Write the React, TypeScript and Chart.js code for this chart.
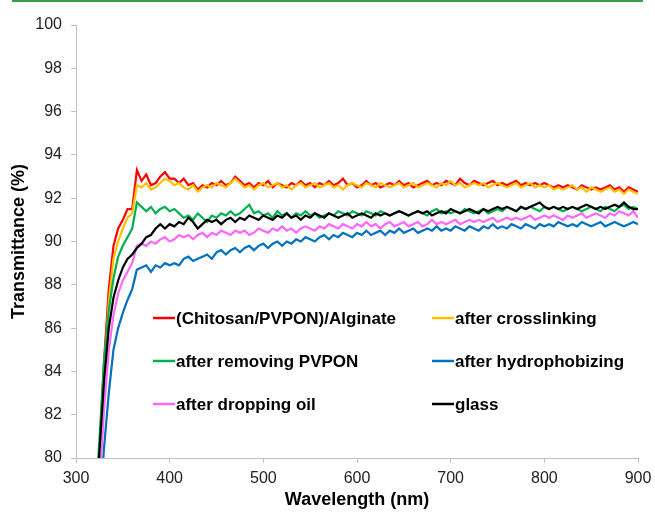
import React, { useEffect, useRef } from "react";
import { Chart, registerables } from "chart.js";

Chart.register(...registerables);

// Wavelength grid (nm): 320..900 every 5 nm
const wavelengths: number[] = Array.from({ length: 117 }, (_, i) => 320 + 5 * i);

const chitosanAlginate = [
  77.0, 80.3, 84.5, 87.8, 89.8, 90.6, 91.0, 91.5, 91.5, 93.3,
  92.8, 93.1, 92.6, 92.7, 93.0, 93.2, 92.9, 92.9, 92.7, 92.9,
  92.6, 92.7, 92.4, 92.6, 92.5, 92.7, 92.6, 92.8, 92.6, 92.7,
  93.0, 92.8, 92.6, 92.7, 92.5, 92.7, 92.6, 92.8, 92.5, 92.7,
  92.6, 92.5, 92.7, 92.6, 92.8, 92.6, 92.7, 92.5, 92.7, 92.6,
  92.8, 92.6, 92.7, 92.9, 92.6, 92.7, 92.5, 92.6, 92.8, 92.6,
  92.7, 92.5, 92.6, 92.7, 92.6, 92.8, 92.6, 92.7, 92.5, 92.6,
  92.7, 92.8, 92.6, 92.7, 92.6, 92.8, 92.7, 92.6, 92.9, 92.7,
  92.6, 92.8, 92.7, 92.6, 92.7, 92.8, 92.6, 92.7, 92.6, 92.7,
  92.8, 92.6, 92.7, 92.6, 92.7, 92.6, 92.7, 92.6, 92.5, 92.6,
  92.5, 92.6, 92.5, 92.4, 92.6, 92.5, 92.4, 92.5, 92.4, 92.5,
  92.6, 92.4, 92.5, 92.3, 92.5, 92.4, 92.3,
];

const afterCrosslinking = [
  76.5, 80.0, 84.0, 87.2, 89.2, 90.0, 90.6, 91.1, 91.3, 92.6,
  92.5, 92.7, 92.4, 92.5, 92.7, 92.9, 92.8, 92.6, 92.7, 92.5,
  92.4, 92.6, 92.3, 92.5, 92.6, 92.5, 92.7, 92.6, 92.5, 92.7,
  92.9, 92.7, 92.5, 92.6, 92.4, 92.6, 92.7, 92.5, 92.6, 92.7,
  92.5, 92.6, 92.4, 92.6, 92.7, 92.5, 92.6, 92.7, 92.5, 92.6,
  92.7, 92.5, 92.6, 92.4, 92.6, 92.7, 92.6, 92.5, 92.7, 92.6,
  92.5, 92.7, 92.6, 92.5, 92.6, 92.7, 92.5, 92.6, 92.7, 92.5,
  92.6, 92.7, 92.6, 92.5, 92.7, 92.6, 92.8, 92.6, 92.7, 92.5,
  92.6, 92.7, 92.6, 92.7, 92.5, 92.6, 92.7, 92.6, 92.5, 92.6,
  92.7, 92.5, 92.6, 92.7, 92.5, 92.6, 92.5, 92.6, 92.4, 92.5,
  92.4, 92.5, 92.6, 92.4, 92.5, 92.3, 92.5, 92.4, 92.3, 92.4,
  92.5, 92.3, 92.4, 92.2, 92.4, 92.3, 92.2,
];

const afterRemovingPVPON = [
  77.5, 80.8, 84.5, 86.8, 88.3, 89.3, 89.8, 90.2, 90.6, 91.8,
  91.6, 91.4, 91.6, 91.3, 91.5, 91.6, 91.4, 91.5, 91.3, 91.1,
  91.2, 91.0, 91.3, 91.1, 90.9, 91.2, 91.1, 91.3, 91.2, 91.4,
  91.2, 91.3, 91.5, 91.7, 91.3, 91.4, 91.2, 91.3, 91.1, 91.4,
  91.2, 91.3, 91.1, 91.3, 91.2, 91.4, 91.2, 91.3, 91.1, 91.2,
  91.3, 91.2, 91.4, 91.3, 91.2, 91.4, 91.3, 91.2, 91.4, 91.3,
  91.2, 91.4, 91.3, 91.2, 91.3, 91.4, 91.3, 91.2, 91.3, 91.4,
  91.3, 91.2, 91.4, 91.5, 91.3, 91.4, 91.3, 91.4, 91.3, 91.5,
  91.4, 91.3, 91.4, 91.5, 91.3, 91.4, 91.5, 91.4, 91.6, 91.5,
  91.4, 91.6, 91.5, 91.6, 91.5, 91.4, 91.6, 91.5, 91.6, 91.5,
  91.4, 91.5, 91.6, 91.5, 91.4, 91.5, 91.6, 91.5, 91.4, 91.6,
  91.5, 91.4, 91.6, 91.7, 91.5, 91.6, 91.5,
];

const afterHydrophobizing = [
  74.0, 77.5, 80.5, 83.0, 85.0, 86.0, 86.7, 87.3, 87.8, 88.7,
  88.8, 88.9, 88.6, 88.9, 88.8, 89.0, 88.9, 89.0, 88.9, 89.2,
  89.3, 89.1, 89.2, 89.3, 89.4, 89.2, 89.5, 89.6, 89.4, 89.6,
  89.7, 89.5, 89.7, 89.8, 89.6, 89.8, 89.9, 89.7, 89.9, 90.0,
  89.8, 90.0, 89.9, 90.1, 90.0, 90.2, 90.1, 90.0, 90.2, 90.3,
  90.1, 90.3, 90.2, 90.4, 90.3, 90.2, 90.4, 90.3, 90.5, 90.3,
  90.4, 90.5, 90.3, 90.5, 90.4, 90.6, 90.4, 90.5, 90.6, 90.4,
  90.5, 90.6, 90.5, 90.7, 90.5, 90.6, 90.5, 90.7, 90.6, 90.5,
  90.7, 90.6, 90.5, 90.7, 90.6, 90.8, 90.6, 90.7, 90.6, 90.8,
  90.7, 90.6, 90.8, 90.7, 90.6, 90.8, 90.7, 90.8, 90.7, 90.9,
  90.8, 90.7, 90.8, 90.7, 90.9, 90.8, 90.7, 90.8, 90.9, 90.7,
  90.8, 90.9, 90.8, 90.7, 90.8, 90.9, 90.8,
];

const afterDroppingOil = [
  75.5, 78.8, 82.3, 85.0, 86.6, 87.6, 88.2, 88.6, 89.0, 89.8,
  89.9, 89.8, 90.0, 89.9, 90.1, 90.2, 90.0, 90.1, 90.3, 90.2,
  90.3, 90.1, 90.3, 90.4, 90.2, 90.4, 90.3, 90.5, 90.4, 90.3,
  90.5, 90.4, 90.5, 90.3, 90.4, 90.6, 90.5, 90.4, 90.6, 90.5,
  90.7, 90.5, 90.6, 90.4, 90.6, 90.7, 90.6, 90.5, 90.7, 90.6,
  90.8, 90.7, 90.6, 90.8, 90.7, 90.6, 90.8, 90.7, 90.9, 90.7,
  90.8, 90.6, 90.8, 90.9, 90.7, 90.8, 90.9, 90.7, 90.8, 90.9,
  90.7, 90.8, 91.0, 90.8, 90.9, 90.8, 90.9, 91.0, 90.8, 90.9,
  91.0, 90.9, 91.0, 90.9, 91.0, 91.1, 90.9, 91.0, 91.1, 91.0,
  91.1, 91.0, 91.1, 91.2, 91.0, 91.1, 91.2, 91.1, 91.2, 91.1,
  91.0, 91.2, 91.1, 91.2, 91.3, 91.1, 91.2, 91.3, 91.2, 91.1,
  91.3, 91.2, 91.4, 91.3, 91.2, 91.4, 91.1,
];

const glass = [
  76.8, 80.3, 83.6, 86.0, 87.4, 88.2, 88.8, 89.2, 89.4, 89.7,
  89.9, 90.2, 90.3, 90.6, 90.8, 90.6, 90.8, 90.7, 90.9, 90.8,
  91.1, 90.9, 90.6, 90.8, 91.0, 90.9, 91.0, 90.8, 91.0, 91.1,
  90.9, 91.1, 91.0, 91.2, 91.1, 91.0, 91.2, 91.1, 91.0, 91.2,
  91.1, 91.3, 91.1, 91.2, 91.0, 91.2, 91.1, 91.3, 91.2, 91.1,
  91.3, 91.2, 91.1, 91.2, 91.3, 91.1, 91.2, 91.3, 91.2, 91.1,
  91.3, 91.2, 91.3, 91.2, 91.3, 91.4, 91.3, 91.2, 91.3, 91.4,
  91.3, 91.4, 91.2, 91.3, 91.4, 91.3, 91.5, 91.4, 91.3, 91.4,
  91.5, 91.4, 91.3, 91.5, 91.4, 91.5, 91.6, 91.5, 91.6, 91.5,
  91.4, 91.6, 91.5, 91.6, 91.7, 91.8, 91.6, 91.5, 91.6, 91.5,
  91.6, 91.5, 91.6, 91.5, 91.6, 91.7, 91.6, 91.5, 91.6, 91.5,
  91.6, 91.7, 91.6, 91.8, 91.6, 91.5, 91.5,
];

const seriesLabels = [
  "(Chitosan/PVPON)/Alginate",
  "after crosslinking",
  "after removing PVPON",
  "after hydrophobizing",
  "after dropping oil",
  "glass",
];
const seriesValues = [
  chitosanAlginate,
  afterCrosslinking,
  afterRemovingPVPON,
  afterHydrophobizing,
  afterDroppingOil,
  glass,
];
const seriesColors = ["#ff0000", "#ffc000", "#00b050", "#0070c0", "#ff66ff", "#000000"];
const drawOrder = [6, 5, 3, 4, 2, 1];

const yTicks = [80, 82, 84, 86, 88, 90, 92, 94, 96, 98, 100];
const xTicks = [300, 400, 500, 600, 700, 800, 900];

const FONT = "'Liberation Sans', Arial, sans-serif";

const insideLegend = {
  id: "insideLegend",
  afterDraw(chart: any) {
    const ctx = chart.ctx as CanvasRenderingContext2D;
    const colX = [153, 432];
    const rowY = [318, 361, 404];
    ctx.save();
    ctx.font = `bold 17px ${FONT}`;
    ctx.textBaseline = "middle";
    ctx.textAlign = "left";
    chart.data.datasets.forEach((ds: any, i: number) => {
      const x = colX[i % 2];
      const y = rowY[Math.floor(i / 2)];
      ctx.strokeStyle = ds.borderColor;
      ctx.lineWidth = 2.5;
      ctx.beginPath();
      ctx.moveTo(x, y);
      ctx.lineTo(x + 22, y);
      ctx.stroke();
      ctx.fillStyle = "#000";
      ctx.fillText(ds.label, x + 23, y + 1);
    });
    ctx.restore();
  },
};

export default function App() {
  const ref = useRef<HTMLCanvasElement | null>(null);

  useEffect(() => {
    document.body.style.margin = "0";
    const canvas = ref.current;
    if (!canvas) return;
    const chart = new Chart(canvas, {
      type: "line",
      data: {
        datasets: seriesValues.map((vals, i) => ({
          label: seriesLabels[i],
          data: vals.map((v, j) => ({ x: wavelengths[j], y: v })),
          borderColor: seriesColors[i],
          backgroundColor: seriesColors[i],
          borderWidth: 2.2,
          pointRadius: 0,
          tension: 0,
          order: drawOrder[i],
        })),
      },
      options: {
        responsive: false,
        animation: false,
        events: [],
        layout: { padding: { top: 25, right: 17, left: 0, bottom: 0 } },
        plugins: {
          legend: { display: false },
          tooltip: { enabled: false },
        },
        scales: {
          x: {
            type: "linear",
            min: 300,
            max: 900,
            afterBuildTicks: (s: any) => {
              s.ticks = xTicks.map((v) => ({ value: v }));
            },
            afterFit: (s: any) => {
              s.height = 54;
              s.paddingLeft = 0;
              s.paddingRight = 0;
            },
            grid: {
              drawOnChartArea: false,
              drawTicks: true,
              tickLength: 5,
              color: "#bfbfbf",
            },
            border: { color: "#bfbfbf", width: 1 },
            ticks: {
              color: "#222",
              font: { size: 16, family: FONT },
              padding: 6,
              maxRotation: 0,
            },
            title: {
              display: true,
              text: "Wavelength (nm)",
              color: "#000",
              font: { size: 18, weight: "bold", family: FONT },
              padding: { top: 0, bottom: 1 },
            },
          },
          y: {
            type: "linear",
            min: 80,
            max: 100,
            afterBuildTicks: (s: any) => {
              s.ticks = yTicks.map((v) => ({ value: v }));
            },
            afterFit: (s: any) => {
              s.width = 76;
            },
            grid: {
              drawOnChartArea: false,
              drawTicks: true,
              tickLength: 5,
              color: "#bfbfbf",
            },
            border: { color: "#bfbfbf", width: 1 },
            ticks: {
              color: "#222",
              font: { size: 16, family: FONT },
              padding: 9,
            },
            title: {
              display: true,
              text: "Transmittance (%)",
              color: "#000",
              font: { size: 18, weight: "bold", family: FONT },
              padding: { top: 8, bottom: 0 },
            },
          },
        },
      },
      plugins: [insideLegend],
    });
    return () => chart.destroy();
  }, []);

  return (
    <div style={{ position: "relative", width: 655, height: 512, background: "#fff" }}>
      <div
        style={{
          position: "absolute",
          left: 12,
          top: 0,
          width: 631,
          height: 2,
          background: "#3a9f48",
        }}
      />
      <canvas ref={ref} width={655} height={512} style={{ display: "block" }} />
    </div>
  );
}
